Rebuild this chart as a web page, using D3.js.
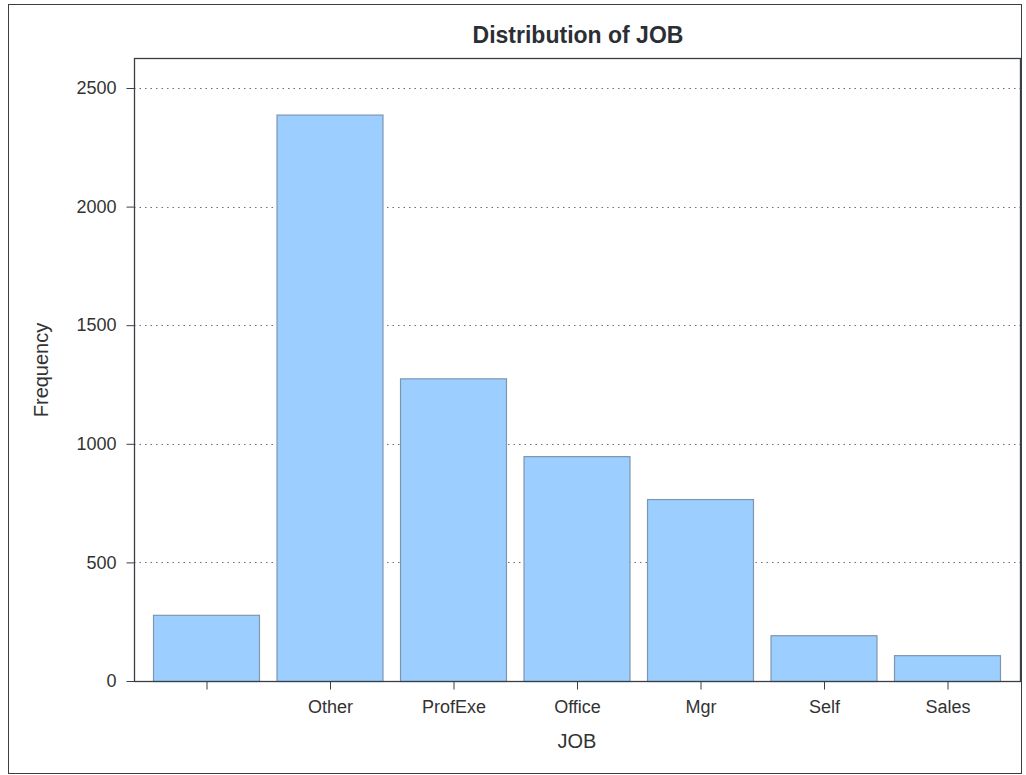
<!DOCTYPE html>
<html><head><meta charset="utf-8">
<script src="https://cdn.jsdelivr.net/npm/d3@7"></script>
<style>body{margin:0;background:#fff}svg{display:block}text{font-family:"Liberation Sans",Arial,sans-serif}</style>
</head><body>
<svg id="c" width="1026" height="775"></svg>
<script>
const categories = ["", "Other", "ProfExe", "Office", "Mgr", "Self", "Sales"];
const frequencies = [279, 2388, 1276, 948, 767, 193, 109];
const yTicks = [0, 500, 1000, 1500, 2000, 2500];
const title = "Distribution of JOB";
const xTitle = "JOB";
const yTitle = "Frequency";

const svg = d3.select("#c");
const plot = {l: 134, t: 58, r: 1020, b: 681};
const FONT = '"Liberation Sans",Arial,sans-serif';

// outer frame
svg.append("rect").attr("x", 8.5).attr("y", 4.5).attr("width", 1013).attr("height", 769)
  .attr("fill", "#fff").attr("stroke", "#3a3f45").attr("stroke-width", 1);

const x = d3.scaleBand().domain(categories.map((c,i)=>i)).range([144.25, 1008.75]).paddingInner(0.142).paddingOuter(0.071);
const y = d3.scaleLinear().domain([0, 2500]).range([plot.b, 88]);

// gridlines
svg.append("g").selectAll("line").data(yTicks).join("line")
  .attr("x1", plot.l).attr("x2", plot.r)
  .attr("y1", d => Math.round(y(d)) + 0.5).attr("y2", d => Math.round(y(d)) + 0.5)
  .attr("stroke", "#707070").attr("stroke-width", 1.2).attr("stroke-dasharray", "1.5,4");

// bars
svg.append("g").selectAll("rect").data(frequencies).join("rect")
  .attr("x", (d,i) => x(i) + 0.5)
  .attr("y", d => y(d) + 0.5)
  .attr("width", x.bandwidth())
  .attr("height", d => plot.b - y(d))
  .attr("fill", "#9ccfff").attr("stroke", "#7d96b0").attr("stroke-width", 1.2);

// plot frame
svg.append("rect").attr("x", plot.l + 0.5).attr("y", plot.t + 0.5)
  .attr("width", plot.r - plot.l).attr("height", plot.b - plot.t)
  .attr("fill", "none").attr("stroke", "#3a3f45").attr("stroke-width", 1.3);

// y axis
const yAxis = d3.axisLeft(y).tickValues(yTicks).tickSize(8).tickPadding(10).tickFormat(d3.format("d"));
const gy = svg.append("g").attr("transform", `translate(${plot.l + 0.5},0)`).call(yAxis);
gy.select(".domain").remove();
gy.selectAll(".tick line").attr("stroke", "#3a3f45");
gy.selectAll(".tick text").attr("fill", "#333").attr("font-size", 18).attr("font-family", FONT);

// x axis
const xAxis = d3.axisBottom(d3.scalePoint().domain(categories.map((c,i)=>i)).range([x(0)+x.bandwidth()/2, x(6)+x.bandwidth()/2]))
  .tickSize(8).tickPadding(0).tickFormat(i => categories[i]);
const gx = svg.append("g").attr("transform", `translate(0.5,${plot.b + 0.5})`).call(xAxis);
gx.select(".domain").remove();
gx.selectAll(".tick line").attr("stroke", "#3a3f45");
gx.selectAll(".tick text").attr("fill", "#333").attr("font-size", 18).attr("font-family", FONT)
  .attr("dy", null).attr("y", 31);

// titles
svg.append("text").attr("x", 578).attr("y", 43).attr("text-anchor", "middle")
  .attr("font-size", 23).attr("font-weight", "bold").attr("fill", "#2b2f35").text(title);
svg.append("text").attr("x", 577).attr("y", 748).attr("text-anchor", "middle")
  .attr("font-size", 20).attr("fill", "#333").text(xTitle);
svg.append("text").attr("transform", "translate(48,370) rotate(-90)").attr("text-anchor", "middle")
  .attr("font-size", 20).attr("fill", "#333").text(yTitle);
</script>
</body></html>
